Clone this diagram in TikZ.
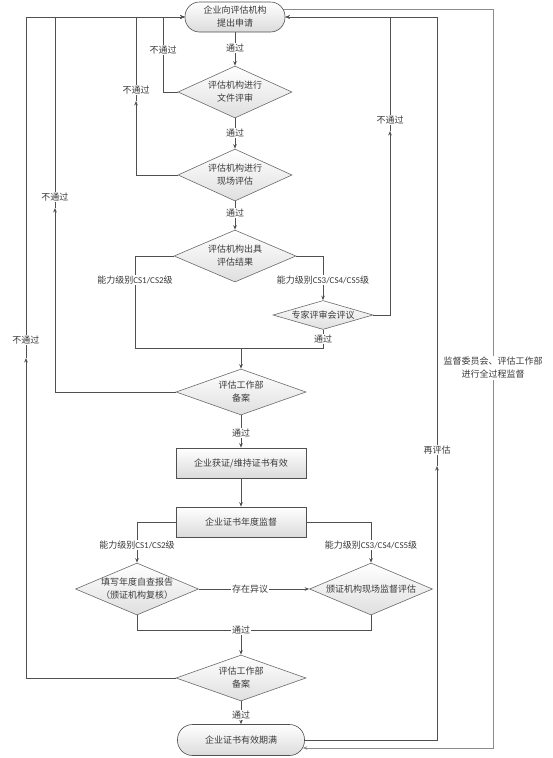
\documentclass[tikz,border=0pt]{standalone}
\usepackage{fontspec}
\setmainfont{Noto Sans CJK SC}
\newfontfamily\latf{Carlito}
\usetikzlibrary{shapes.geometric,arrows.meta,calc}
\definecolor{ln}{HTML}{505050}
\definecolor{supc}{HTML}{8C8C8C}
\definecolor{tx}{HTML}{3A3A3A}
\pgfdeclarelayer{bg}
\pgfsetlayers{bg,main}
\begin{document}
\begin{tikzpicture}[x=1pt,y=-1pt,
  font=\fontsize{9}{13}\selectfont, text=tx,
  line/.style={draw=ln, line width=0.9pt},
  arr/.style={line, -{Stealth[length=4.5pt,width=3.6pt]}},
  supl/.style={draw=supc, line width=0.9pt},
  dia/.style={diamond, draw=ln!85, line width=0.6pt, inner sep=0pt, top color=white, bottom color=gray!25},
  term/.style={rectangle, draw=ln, line width=0.6pt, top color=white, bottom color=gray!28, inner sep=0pt, align=center},
  boxn/.style={rectangle, draw=ln, line width=0.6pt, top color=white, bottom color=gray!28, minimum width=130pt, minimum height=30pt, inner sep=0pt, align=center},
  txt/.style={align=center, inner sep=0pt},
  lbl/.style={fill=white, inner sep=1pt, align=center}]
\useasboundingbox (0,0) rectangle (553,758);

% shapes
\node[term, rounded corners=14.5pt, minimum width=100pt, minimum height=30pt] (start) at (235,17) {企业向评估机构\\提出申请};
\node[dia, minimum width=114pt, minimum height=52pt] (d1) at (235,92) {};
\node[txt] (t1) at (d1) {评估机构进行\\文件评审};
\node[dia, minimum width=114pt, minimum height=52pt] (d2) at (235,175) {};
\node[txt] (t2) at (d2) {评估机构进行\\现场评估};
\node[dia, minimum width=122pt, minimum height=52pt] (d3) at (235,256) {};
\node[txt] (t3) at (d3) {评估机构出具\\评估结果};
\node[dia, minimum width=100pt, minimum height=29pt] (d4) at (323,315) {};
\node[txt] (t4) at (d4) {专家评审会评议};
\node[dia, minimum width=130pt, minimum height=46pt] (d5) at (241,392) {};
\node[txt] (t5) at (d5) {评估工作部\\备案};
\node[boxn] (b1) at (241,463) {企业获证/维持证书有效};
\node[boxn] (b2) at (241,522) {企业证书年度监督};
\node[dia, minimum width=123pt, minimum height=52pt] (d6) at (137,589) {};
\node[txt] (t6) at (d6) {填写年度自查报告\\（颁证机构复核）};
\node[dia, minimum width=123pt, minimum height=52pt] (d7) at (371,589) {};
\node[txt] (t7) at (d7) {颁证机构现场监督评估};
\node[dia, minimum width=130pt, minimum height=46pt] (d8) at (241,678) {};
\node[txt] (t8) at (d8) {评估工作部\\备案};
\node[term, rounded corners=15pt, minimum width=127pt, minimum height=31pt] (end) at (241,740) {企业证书有效期满};

% labels
\node[lbl] (p1) at (235,48) {通过};
\node[lbl] (p2) at (235,133) {通过};
\node[lbl] (p3) at (235,213) {通过};
\node[lbl] (c12a) at (135,280) {能力级别{\latf CS1/CS2}级};
\node[lbl] (c35a) at (323,280) {能力级别{\latf CS3/CS4/CS5}级};
\node[lbl] (p4) at (323,339) {通过};
\node[lbl] (n1) at (163,50) {不通过};
\node[lbl] (n2) at (136,90) {不通过};
\node[lbl] (n3) at (55,197) {不通过};
\node[lbl] (n4) at (26,340) {不通过};
\node[lbl] (n5) at (390,120) {不通过};
\node[lbl] (p5) at (241,433) {通过};
\node[lbl] (c12b) at (137,545) {能力级别{\latf CS1/CS2}级};
\node[lbl] (c35b) at (371,545) {能力级别{\latf CS3/CS4/CS5}级};
\node[lbl] (yy) at (250,589) {存在异议};
\node[lbl] (p6) at (241,630) {通过};
\node[lbl] (p7) at (241,715) {通过};
\node[lbl] (re) at (437,450) {再评估};
\node[lbl] (sup) at (493,368) {监督委员会、评估工作部\\进行全过程监督};

% helper coordinates
\coordinate (mL) at (135,348);
\coordinate (mR) at (323,348);
\coordinate (mC) at (241,348);
\coordinate (n2a) at (136,101);
\coordinate (n3a) at (55,208);
\coordinate (n4a) at (26,358);
\coordinate (n5a) at (390,131);
\coordinate (rea) at (437,466);
\coordinate (q1) at (137,630);
\coordinate (q2) at (371,630);
\coordinate (s1) at ($(start.east)+(-2,-8)$);
\coordinate (s2) at ($(end.east)+(-2,8)$);

\begin{pgfonlayer}{bg}
% main column
\draw[arr] (start.south) -- (d1.north);
\draw[arr] (d1.south) -- (d2.north);
\draw[arr] (d2.south) -- (d3.north);
\draw[arr] (d3.east) -| (d4.north);
\draw[line] (d3.west) -| (mL) -- (mR) -- (d4.south);
\draw[arr] (mC) -- (d5.north);
\draw[arr] (d5.south) -- (b1.north);
\draw[arr] (b1.south) -- (b2.north);
\draw[arr] (b2.west) -| (d6.north);
\draw[arr] (b2.east) -| (d7.north);
\draw[arr] (d6.east) -- (d7.west);
\draw[line] (d6.south) -- (q1) -- (q2) -- (d7.south);
\draw[arr] (p6.south) -- (d8.north);
\draw[arr] (d8.south) -- (end.north);
% left loops
\draw[line] (d1.west) -| (n1.south);
\draw[arr] (n1.north) |- (start.west);
\draw[arr] (d2.west) -| (n2a);
\draw[line] (n2a) -- (n2.south);
\draw[arr] (n2.north) |- (start.west);
\draw[arr] (d5.west) -| (n3a);
\draw[line] (n3a) -- (n3.south);
\draw[arr] (n3.north) |- (start.west);
\draw[arr] (d8.west) -| (n4a);
\draw[line] (n4a) -- (n4.south);
\draw[arr] (n4.north) |- (start.west);
% right loops
\draw[arr] (d4.east) -| (n5a);
\draw[line] (n5a) -- (n5.south);
\draw[arr] (n5.north) |- (start.east);
\draw[arr] (end.east) -| (rea);
\draw[line] (rea) -- (re.south);
\draw[arr] (re.north) |- (start.east);
% supervision
\draw[supl] (s1) -| (sup.north);
\draw[supl, -{Stealth[length=4.5pt,width=3.6pt]}] (sup.south) |- (s2);
\end{pgfonlayer}
\end{tikzpicture}
\end{document}
